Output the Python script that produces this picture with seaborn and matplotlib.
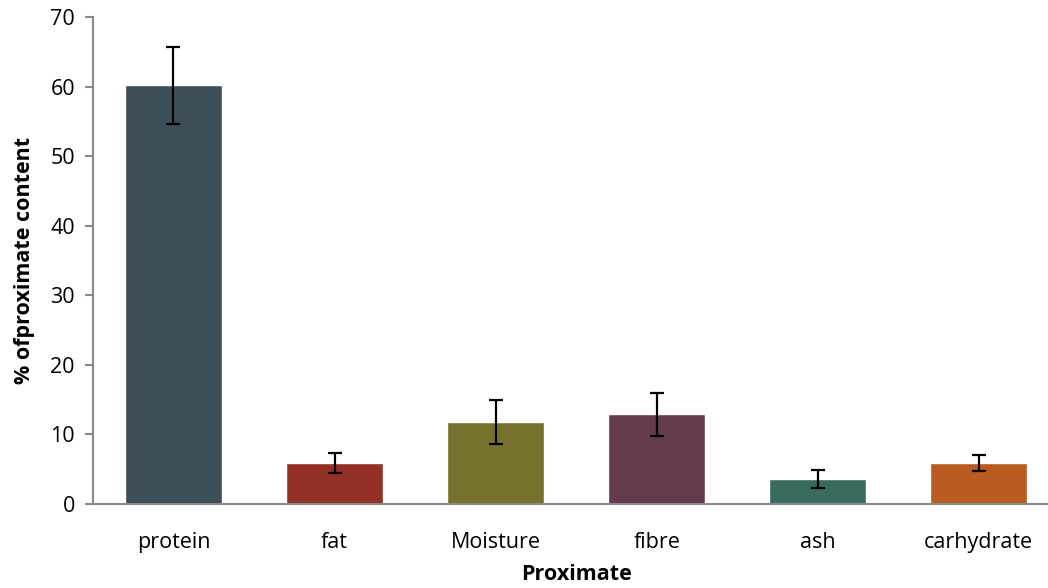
import numpy as np
import pandas as pd
import matplotlib
matplotlib.use('Agg')
import matplotlib.pyplot as plt
import seaborn as sns

# data
categories = ['protein', 'fat', 'Moisture', 'fibre', 'ash', 'carhydrate']
values = [60.2, 5.9, 11.8, 12.9, 3.6, 5.9]
errors = [5.5, 1.5, 3.2, 3.1, 1.3, 1.2]
colors = ['#3C4E58', '#943126', '#76712D', '#633B4E', '#386B5E', '#BA5C22']

df = pd.DataFrame({'item': categories, 'value': values, 'err': errors})

sns.set_theme(style='white')
plt.rcParams['font.family'] = ['Open Sans', 'DejaVu Sans']

fig = plt.figure(figsize=(10.48, 5.88), dpi=100)
ax = fig.add_axes([0.0887, 0.1429, 0.922, 0.828])

sns.barplot(data=df, x='item', y='value', hue='item', palette=colors,
            width=0.6, legend=False, ax=ax, saturation=1)
ax.errorbar(np.arange(len(categories)), df['value'], yerr=df['err'],
            fmt='none', ecolor='black', elinewidth=1.6, capsize=5, capthick=1.6)

ax.set_xlim(-0.5, 5.5)
ax.set_ylim(0, 70)
ax.set_yticks(range(0, 71, 10))
for side in ['top', 'right']:
    ax.spines[side].set_visible(False)
for side in ['left', 'bottom']:
    ax.spines[side].set_color('#898989')
    ax.spines[side].set_linewidth(1.5)
ax.tick_params(axis='y', which='both', left=True, length=6, width=1.5,
               color='#898989', labelsize=15.5, labelcolor='black', pad=7)
ax.tick_params(axis='x', bottom=False, labelsize=15.5, labelcolor='black', pad=14)

ax.set_xlabel('Proximate', fontsize=15.5, fontweight='bold', labelpad=8, color='black')
ax.set_ylabel('% ofproximate content', fontsize=15.5, fontweight='bold',
              labelpad=11, color='black')

fig.savefig('out.png', dpi=100)
